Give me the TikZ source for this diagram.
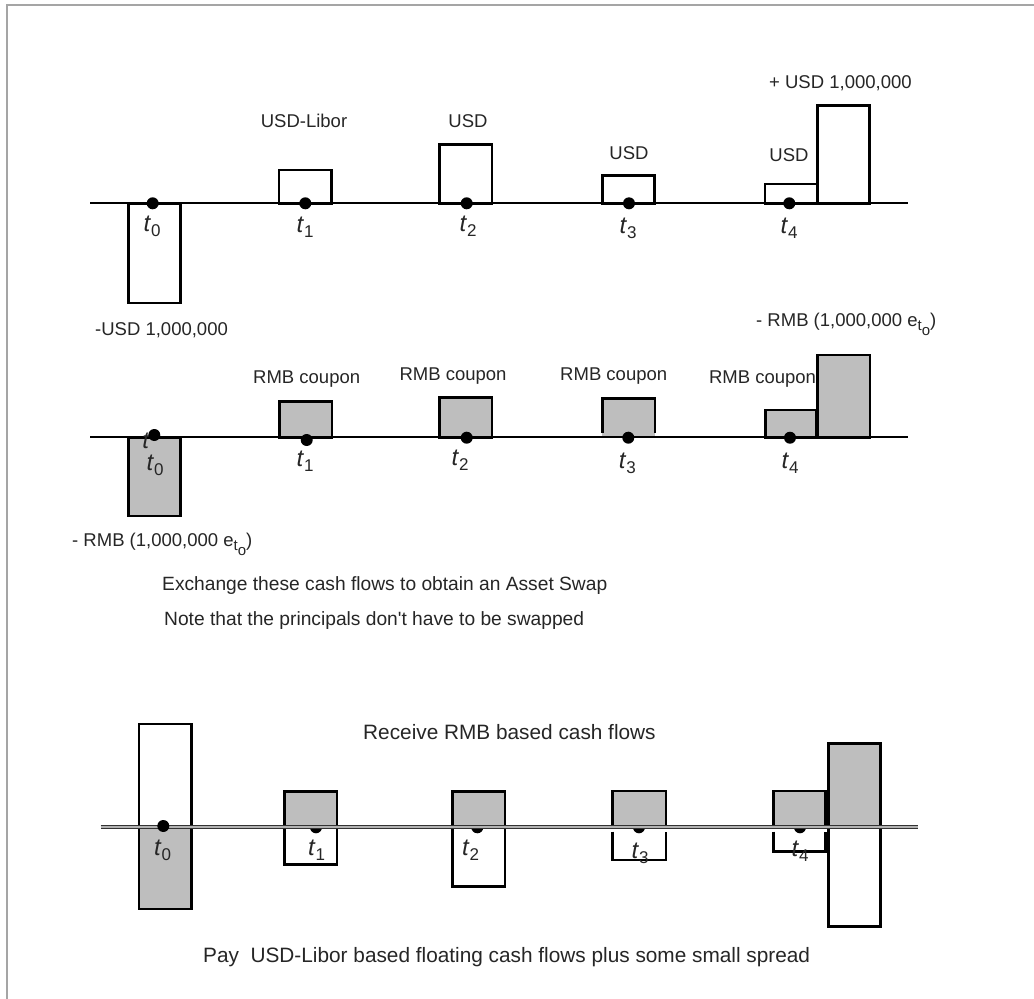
\documentclass[tikz,border=0pt]{standalone}
\usepackage{fontspec}
\setmainfont{Liberation Sans}[Ligatures=TeXOff]
\definecolor{gbarc}{RGB}{190,190,190}
\definecolor{framec}{RGB}{165,165,165}
\newcommand{\tsub}[1]{\textit{t}\raisebox{-5pt}{\fontsize{17}{17}\selectfont #1}}
\newcommand{\etzero}{e\raisebox{-4pt}{\fontsize{15}{15}\selectfont t\raisebox{-5pt}{o}}}
\begin{document}
\begin{tikzpicture}[x=1pt,y=-1pt,
  lbl/.style={font=\fontsize{18.5}{20}\selectfont, inner sep=0pt, anchor=base, text=black!85},
  lbll/.style={lbl, anchor=base west},
  sent/.style={font=\fontsize{19.2}{21}\selectfont, inner sep=0pt, anchor=base west, text=black!85},
  sentb/.style={sent, font=\fontsize{20.8}{22}\selectfont},
  tlab/.style={font=\fontsize{24}{26}\selectfont, inner sep=0pt, text=black!85},
  bar/.style={draw=black, line width=2.6pt},
  wbar/.style={bar, fill=white},
  gbar/.style={bar, fill=gbarc},
  axisline/.style={line width=2pt, draw=black},
  dblaxis/.style={line width=1pt, draw=black!80, double=black!30, double distance=2pt},
  dot/.style={circle, fill=black, inner sep=0pt, minimum size=12pt}
]
\useasboundingbox (0,0) rectangle (1034,999);
\fill[white] (0,0) rectangle (1034,999);
% frame
\draw[framec, line width=2.5pt] (7,999) -- (7,5) -- (1034,5);

%% ---------------- Panel 1 ----------------
\coordinate (a1s) at (90,203.3);
\coordinate (a1e) at (908,203.3);
\draw[axisline] (a1s) -- (a1e);
\draw[wbar] (128.3,203.3) rectangle (180.7,303);
\draw[wbar] (279,203.3) rectangle (331.7,170);
\draw[wbar] (439.3,203.3) rectangle (492,144.3);
\draw[wbar] (602.3,203.3) rectangle (654.7,175.7);
\draw[wbar] (765,203.3) rectangle (817.3,184);
\draw[wbar] (817.3,203.3) rectangle (869.3,105.7);
\node[dot] (p1d0) at (152.7,203.3) {};
\node[dot] (p1d1) at (305.3,203.3) {};
\node[dot] (p1d2) at (466.7,203.3) {};
\node[dot] (p1d3) at (629,203.3) {};
\node[dot] (p1d4) at (789.3,203.3) {};
\node[tlab] (p1t0) at (152,226.5) {\tsub{0}};
\node[tlab] (p1t1) at (305,227) {\tsub{1}};
\node[tlab] (p1t2) at (468,226) {\tsub{2}};
\node[tlab] (p1t3) at (628,228) {\tsub{3}};
\node[tlab] (p1t4) at (789,228) {\tsub{4}};
\node[lbl] (p1l1) at (304,127) {USD-Libor};
\node[lbl] (p1l2) at (468,127) {USD};
\node[lbl] (p1l3) at (629,159) {USD};
\node[lbl] (p1l4) at (789,161.7) {USD};
\node[lbll] (p1l5) at (769,88.3) {+ USD 1,000,000};
\node[lbll] (p1l0) at (95,335) {-USD 1,000,000};

%% ---------------- Panel 2 ----------------
\coordinate (a2s) at (90,437.3);
\coordinate (a2e) at (908,437.3);
\draw[axisline] (a2s) -- (a2e);
\draw[gbar] (128.3,437.3) rectangle (180.7,516);
\draw[gbar] (279.3,437.3) rectangle (332,401.7);
\draw[gbar] (439.3,437.3) rectangle (492,397.3);
\fill[gbarc] (602.3,436) rectangle (655,398.3);
\draw[bar] (602.3,432.7) -- (602.3,398.3) -- (655,398.3) -- (655,432.7);
\draw[gbar] (765.7,437.3) rectangle (816.7,410);
\draw[gbar] (817.7,437.3) rectangle (870,355);
\node[tlab] (p2stray) at (146,441) {\textit{t}};
\node[dot] (p2d0) at (154.3,435) {};
\node[dot] (p2d1) at (306.7,440) {};
\node[dot] (p2d2) at (466.7,437.7) {};
\node[dot] (p2d3) at (628.3,437.7) {};
\node[dot] (p2d4) at (790,437.7) {};
\node[tlab] (p2t0) at (155,465) {\tsub{0}};
\node[tlab] (p2t1) at (305,461.7) {\tsub{1}};
\node[tlab] (p2t2) at (460,460) {\tsub{2}};
\node[tlab] (p2t3) at (627.3,463.3) {\tsub{3}};
\node[tlab] (p2t4) at (790,463.3) {\tsub{4}};
\node[lbl] (p2l1) at (306.7,383.3) {RMB coupon};
\node[lbl] (p2l2) at (453,380.7) {RMB coupon};
\node[lbl] (p2l3) at (613.7,380.7) {RMB coupon};
\node[lbl] (p2l4) at (762.5,383.3) {RMB coupon};
\node[lbll] (p2l5) at (756,326) {- RMB (1,000,000 \etzero)};
\node[lbll] (p2l0) at (72,546.7) {- RMB (1,000,000 \etzero)};

%% ---------------- middle texts ----------------
\node[sent] (ex1) at (162,590.7) {Exchange these cash flows to obtain an Asset Swap};
\node[sent] (ex2) at (164,625) {Note that the principals don't have to be swapped};

%% ---------------- Panel 3 ----------------
\coordinate (a3s) at (100.7,826.7);
\coordinate (a3e) at (918.3,826.7);
\draw[wbar] (139,826.7) rectangle (191.7,724);
\draw[gbar] (139,826.7) rectangle (191.7,909);
\draw[wbar] (284.7,826.7) rectangle (337,864.7);
\draw[wbar] (452.7,826.7) rectangle (505,886.7);
\draw[bar] (612.7,831.7) -- (612.7,860) -- (666,860) -- (666,831.7);
\draw[bar] (773.3,831.7) -- (773.3,851.7) -- (825.7,851.7) -- (825.7,831.7);
\draw[wbar] (828.3,826.7) rectangle (880.7,926.7);
\node[dot] (p3d1) at (316,827.3) {};
\node[dot] (p3d2) at (477.3,827.3) {};
\node[dot] (p3d3) at (639,827.3) {};
\node[dot] (p3d4) at (800,827.3) {};
\draw[gbar] (284.7,826.7) rectangle (337,791.7);
\draw[gbar] (452.7,826.7) rectangle (505,791.7);
\draw[gbar] (612.7,826.7) rectangle (666,791);
\draw[gbar] (773.3,826.7) rectangle (825.7,791);
\draw[gbar] (828.3,826.7) rectangle (880.7,743.3);
\draw[dblaxis] (a3s) -- (a3e);
\node[dot] (p3d0) at (163.3,826) {};
\node[tlab] (p3t0) at (162.7,850) {\tsub{0}};
\node[tlab] (p3t1) at (316.7,850) {\tsub{1}};
\node[tlab] (p3t2) at (470.7,850) {\tsub{2}};
\node[tlab] (p3t3) at (640,853.3) {\tsub{3}};
\node[tlab] (p3t4) at (800,851.7) {\tsub{4}};
\node[sentb] (rcv) at (363,739) {Receive RMB based cash flows};
\node[sentb] (pay) at (203,962.7) {Pay\ \ USD-Libor based floating cash flows plus some small spread};
\end{tikzpicture}
\end{document}
